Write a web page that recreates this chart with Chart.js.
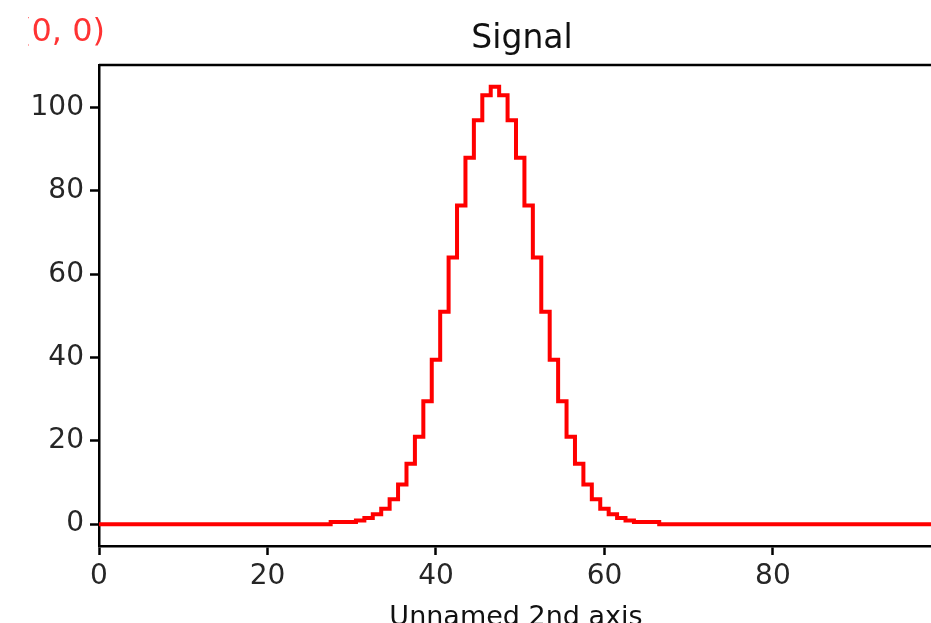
<!DOCTYPE html>
<html>
<head>
<meta charset="utf-8">
<script src="https://cdn.jsdelivr.net/npm/chart.js@4"></script>
<style>
  html, body { margin: 0; padding: 0; background: #fff; overflow: hidden; }
</style>
</head>
<body>
<canvas id="myChart" width="933" height="623"></canvas>
<script>
// x positions (sample index) and the signal
var xIndex = [
  0, 1, 2, 3, 4, 5, 6, 7, 8, 9, 10, 11, 12, 13, 14, 15, 16, 17, 18, 19,
  20, 21, 22, 23, 24, 25, 26, 27, 28, 29, 30, 31, 32, 33, 34, 35, 36, 37, 38, 39,
  40, 41, 42, 43, 44, 45, 46, 47, 48, 49, 50, 51, 52, 53, 54, 55, 56, 57, 58, 59,
  60, 61, 62, 63, 64, 65, 66, 67, 68, 69, 70, 71, 72, 73, 74, 75, 76, 77, 78, 79,
  80, 81, 82, 83, 84, 85, 86, 87, 88, 89, 90, 91, 92, 93, 94, 95, 96, 97, 98, 99
];
var signal = [
  0, 0, 0, 0, 0, 0, 0, 0, 0, 0, 0, 0, 0, 0, 0, 0, 0, 0, 0, 0,
  0, 0, 0, 0, 0, 0, 0, 0, 0.5, 0.5, 0.5, 0.9, 1.5, 2.4, 3.7, 6.0, 9.5, 14.5, 21, 29.5,
  39.5, 51, 64, 76.5, 88, 97, 103, 105, 103, 97, 88, 76.5, 64, 51, 39.5, 29.5, 21, 14.5, 9.5, 6.0,
  3.7, 2.4, 1.5, 0.9, 0.5, 0.5, 0.5, 0, 0, 0, 0, 0, 0, 0, 0, 0, 0, 0, 0, 0,
  0, 0, 0, 0, 0, 0, 0, 0, 0, 0, 0, 0, 0, 0, 0, 0, 0, 0, 0, 0
];
var xTicks = [0, 20, 40, 60, 80];
var yTicks = [0, 20, 40, 60, 80, 100];

var chartTitle = 'Signal';
var xAxisTitle = 'Unnamed 2nd axis';
var cornerText = '(0, 0)';

Chart.defaults.font.family = "'DejaVu Sans', sans-serif";
Chart.defaults.color = '#262626';

// top/right frame, the title over the plot and the red corner note
var decorations = {
  id: 'decorations',
  afterDraw: function (chart) {
    var c = chart.ctx, a = chart.chartArea;
    c.save();
    c.strokeStyle = '#000';
    c.lineWidth = 2.5;
    c.beginPath();
    c.moveTo(a.left, a.top);
    c.lineTo(a.right, a.top);
    c.lineTo(a.right, a.bottom);
    c.stroke();

    c.fillStyle = '#111';
    c.font = "33px 'DejaVu Sans'";
    c.textAlign = 'center';
    c.textBaseline = 'alphabetic';
    c.fillText(chartTitle, (a.left + a.right) / 2 + 6, 48);

    c.beginPath();
    c.rect(28, 0, 200, 60);
    c.clip();
    c.fillStyle = 'rgba(255, 0, 0, 0.8)';
    c.font = "32px 'DejaVu Sans'";
    c.textAlign = 'right';
    c.fillText(cornerText, 105, 41);
    c.restore();
  }
};

var ctx = document.getElementById('myChart').getContext('2d');
var chart = new Chart(ctx, {
  type: 'line',
  data: {
    datasets: [{
      label: chartTitle,
      data: xIndex.map(function (x, i) { return { x: x, y: signal[i] }; }),
      borderColor: '#ff0000',
      borderWidth: 4,
      pointRadius: 0,
      stepped: 'middle',
      fill: false
    }]
  },
  options: {
    responsive: false,
    animation: false,
    layout: { padding: { top: 65, left: 0, right: 0, bottom: 0 } },
    plugins: {
      legend: { display: false },
      tooltip: { enabled: false }
    },
    scales: {
      x: {
        type: 'linear',
        min: 0,
        max: 99,
        afterBuildTicks: function (scale) {
          scale.ticks = xTicks.map(function (v) { return { value: v }; });
        },
        afterFit: function (scale) { scale.height = 77; },
        ticks: { font: { size: 28 }, padding: 5, maxRotation: 0 },
        grid: { drawOnChartArea: false, drawTicks: true, tickLength: 9, tickWidth: 2.5, tickColor: '#000' },
        border: { color: '#000', width: 2.5 },
        title: {
          display: true,
          text: xAxisTitle,
          color: '#111',
          font: { size: 27, lineHeight: 0.35 },
          padding: 0
        }
      },
      y: {
        type: 'linear',
        min: -5.25,
        max: 110.25,
        afterBuildTicks: function (scale) {
          scale.ticks = yTicks.map(function (v) { return { value: v }; });
        },
        afterFit: function (scale) { scale.width = 99; },
        ticks: { font: { size: 28 }, padding: 6 },
        grid: { drawOnChartArea: false, drawTicks: true, tickLength: 9, tickWidth: 2.5, tickColor: '#000' },
        border: { color: '#000', width: 2.5 }
      }
    }
  },
  plugins: [decorations]
});
</script>
</body>
</html>
